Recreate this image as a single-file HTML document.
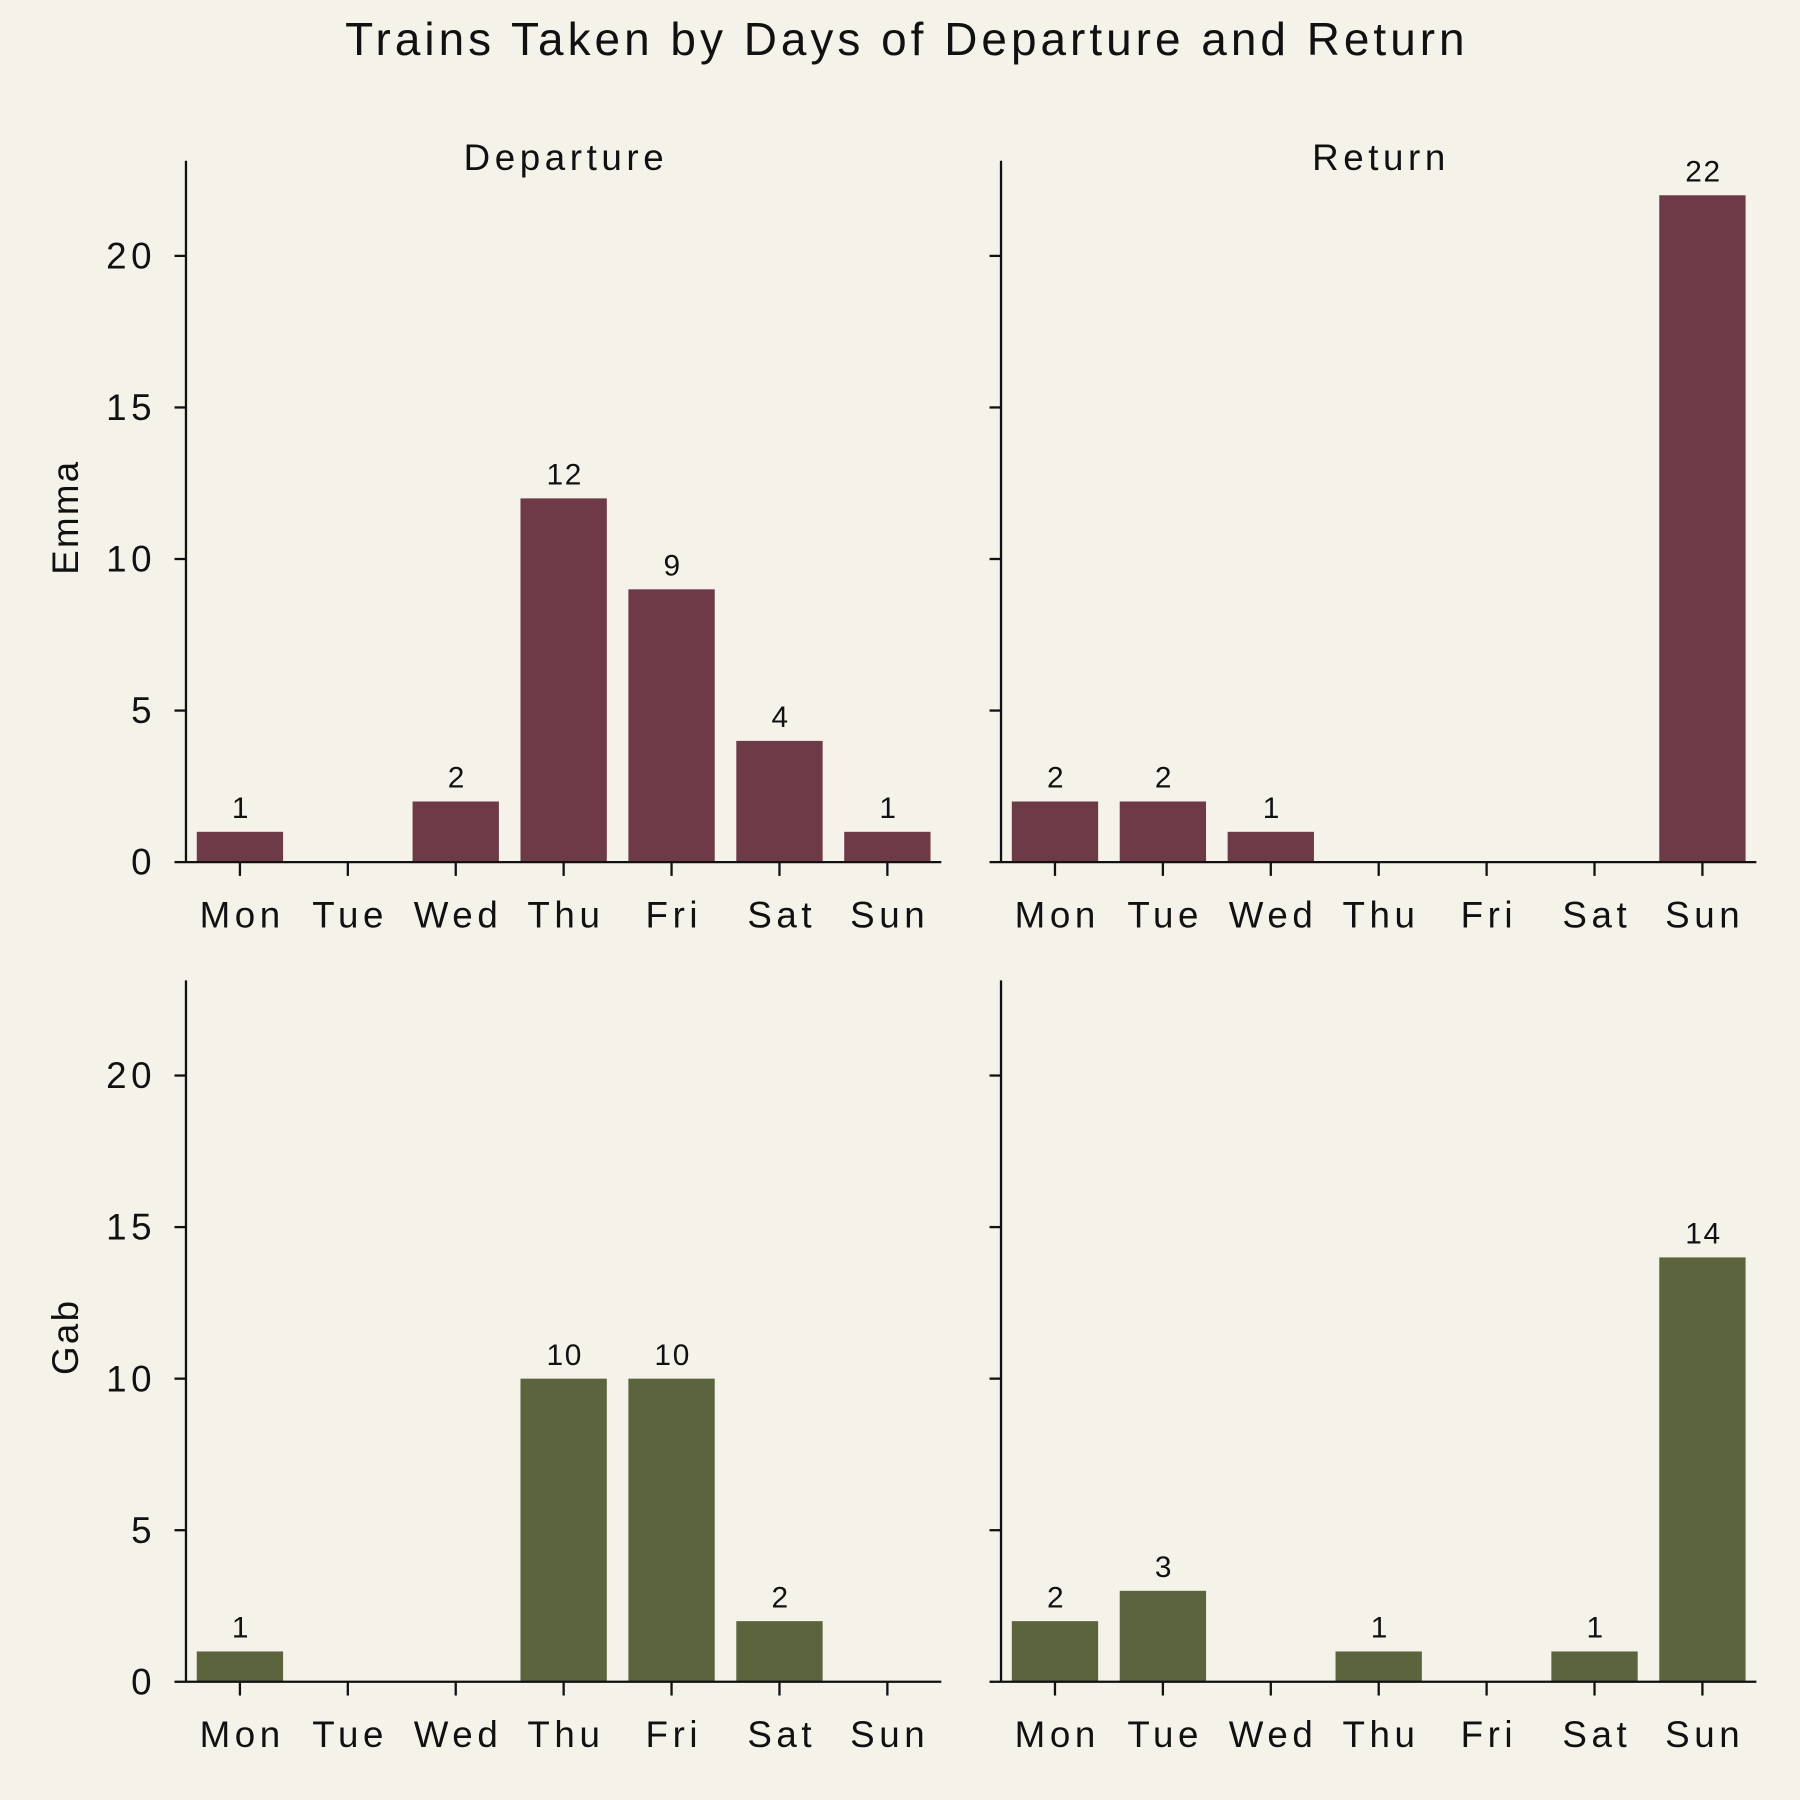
<!DOCTYPE html>
<html><head><meta charset="utf-8"><style>
html,body{margin:0;padding:0;background:#f5f3e9;}
svg{display:block;font-family:"Liberation Sans",sans-serif;}
</style></head><body>
<svg id="chart" width="1800" height="1800" viewBox="0 0 1568 1568" xmlns="http://www.w3.org/2000/svg">
<rect x="0" y="0" width="1568" height="1568" fill="#f5f3e9"/>
<text x="790" y="48" font-size="40" letter-spacing="3.5" text-anchor="middle" fill="#111">Trains Taken by Days of Departure and Return</text>
<g id="plots"></g>
</svg>
<script>
const days = ["Mon","Tue","Wed","Thu","Fri","Sat","Sun"];
const emmaDeparture = [1,0,2,12,9,4,1];
const emmaReturn = [2,2,1,0,0,0,22];
const gabDeparture = [1,0,0,10,10,2,0];
const gabReturn = [2,3,0,1,0,1,14];
const yTicks = [0,5,10,15,20];
const yMax = 23.14;

const NS="http://www.w3.org/2000/svg";
const root=document.getElementById('plots');
function mk(tag,attrs,parent,text){const e=document.createElementNS(NS,tag);for(const k in attrs)e.setAttribute(k,attrs[k]);if(text!==undefined)e.textContent=text;parent.appendChild(e);return e;}

const panels=[
 {vals:emmaDeparture,left:162,bottom:751,color:"#6e3a48",labels:true,col:"Departure",row:"Emma",name:"emma-departure"},
 {vals:emmaReturn,left:872,bottom:751,color:"#6e3a48",labels:false,col:"Return",row:null,name:"emma-return"},
 {vals:gabDeparture,left:162,bottom:1465,color:"#5b643d",labels:true,col:null,row:"Gab",name:"gab-departure"},
 {vals:gabReturn,left:872,bottom:1465,color:"#5b643d",labels:false,col:null,row:null,name:"gab-return"}
];
const W=658,H=611;
panels.forEach(p=>{
  const g=mk('g',{},root);
  
  
  const band=W/days.length;
  const x=i=>p.left+band*(i+0.5);
  const y=v=>p.bottom-v/yMax*H;
  p.vals.forEach((v,i)=>{
    if(v>0){
      const r=mk('rect',{x:x(i)-band*0.4,y:y(v),width:band*0.8,height:p.bottom-y(v),fill:p.color},g);
      
      
      const t=mk('text',{x:x(i)+1,y:y(v)-12,'font-size':26,'letter-spacing':1.5,'text-anchor':'middle',fill:'#111'},g,String(v));
      
      
    }
  });
  const ya=mk('line',{x1:p.left,y1:p.bottom-H,x2:p.left,y2:p.bottom,stroke:'#111','stroke-width':2},g);
  
  
  const xa=mk('line',{x1:p.left,y1:p.bottom,x2:p.left+W,y2:p.bottom,stroke:'#111','stroke-width':2},g);
  
  
  yTicks.forEach(tv=>{
    mk('line',{x1:p.left-10,y1:y(tv),x2:p.left,y2:y(tv),stroke:'#111','stroke-width':2},g);
    if(p.labels){
      const t=mk('text',{x:p.left-26,y:y(tv)+11,'font-size':32,'letter-spacing':4,'text-anchor':'end',fill:'#111'},g,String(tv));
      
      
    }
  });
  days.forEach((d,i)=>{
    mk('line',{x1:x(i),y1:p.bottom,x2:x(i),y2:p.bottom+12,stroke:'#111','stroke-width':2},g);
    const t=mk('text',{x:x(i)+2,y:p.bottom+57,'font-size':32,'letter-spacing':4,'text-anchor':'middle',fill:'#111'},g,d);
    
    
  });
  if(p.col){
    const t=mk('text',{x:p.left+W/2+2,y:p.bottom-H+8,'font-size':32,'letter-spacing':4,'text-anchor':'middle',fill:'#111'},g,p.col);
    
    
  }
  if(p.row){
    const cy=p.bottom-H/2+5;
    const t=mk('text',{x:68,y:cy,'font-size':32,'letter-spacing':2,'text-anchor':'middle',fill:'#111',transform:`rotate(-90 68 ${cy})`},g,p.row);
    
    
  }
});
</script>
</body></html>
